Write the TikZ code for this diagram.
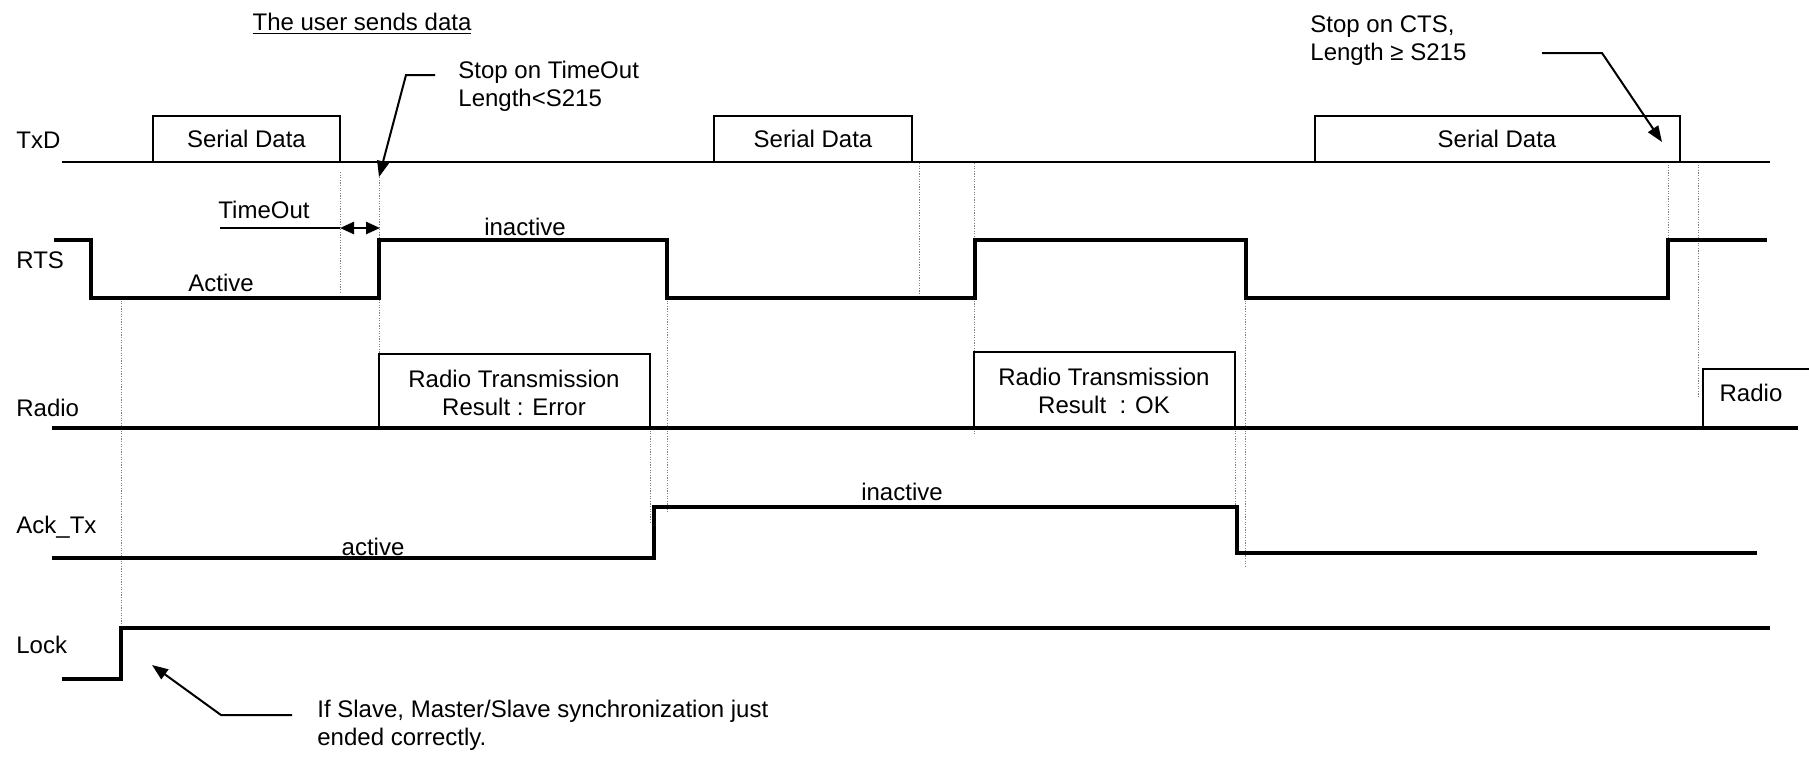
\documentclass[tikz,border=0pt]{standalone}
\usepackage{fontspec}
\setmainfont{Liberation Sans}
\usetikzlibrary{arrows.meta}
\begin{document}
\begin{tikzpicture}[x=0.5pt,y=-0.5pt,
  wave/.style={line width=1.6pt, line join=miter},
  boxline/.style={line width=1.2pt, line join=miter},
  guide/.style={gray, line width=0.5pt, dash pattern=on 0.6pt off 0.7pt},
  lead/.style={line width=1pt, -{Triangle[length=8pt,width=6pt]}},
  txt/.style={font=\fontsize{12}{14}\selectfont, inner sep=0pt},
  sig/.style={txt, anchor=west}]
\useasboundingbox (0,0) rectangle (1809,757);

% signal names
\node[sig] (lTxD) at (16,140) {TxD};
\node[sig] (lRTS) at (16,260) {RTS};
\node[sig] (lRadio) at (16,408) {Radio};
\node[sig] (lAck) at (16,527) {Ack\_Tx};
\node[sig] (lLock) at (16,645) {Lock};

% guide lines (dotted)
\draw[guide] (121,298) -- (121,628);
\draw[guide] (340,172) -- (340,293);
\draw[guide] (379,172) -- (379,354);
\draw[guide] (650,428) -- (650,522);
\draw[guide] (667,298) -- (667,512);
\draw[guide] (919,163) -- (919,298);
\draw[guide] (974,163) -- (974,434);
\draw[guide] (1235,428) -- (1235,553);
\draw[guide] (1245,298) -- (1245,567);
\draw[guide] (1668,162) -- (1668,240);
\draw[guide] (1698,162) -- (1698,397);

% TxD
\draw[boxline] (62,162) -- (1770,162);
\draw[boxline] (153,162) |- (340,116) -- (340,162);
\draw[boxline] (714,162) |- (912,116) -- (912,162);
\draw[boxline] (1315,162) |- (1680,116) -- (1680,162);
\node[txt] (sd1) at (246.5,139) {Serial Data};
\node[txt] (sd2) at (813,139) {Serial Data};
\node[txt] (sd3) at (1497,139) {Serial Data};

% RTS
\draw[wave] (54,240) -- (91,240) -- (91,298) -- (379,298) -- (379,240) -- (667,240)
  -- (667,298) -- (975,298) -- (975,240) -- (1246,240) -- (1246,298) -- (1668,298)
  -- (1668,240) -- (1767,240);
\node[txt] (rtsin1) at (525,227) {inactive};
\node[txt] (rtsact) at (221,283) {Active};

% TimeOut
\node[txt] (tout) at (264,210) {TimeOut};
\coordinate (toA) at (220,228);
\coordinate (toB) at (340,228);
\coordinate (toC) at (380,228);
\draw[line width=1.3pt] (toA) -- (toB);
\draw[line width=1.2pt, {Triangle[length=7pt,width=6pt]}-{Triangle[length=7pt,width=6pt]}] (toB) -- (toC);

% Radio
\draw[wave] (52,428) -- (1798,428);
\draw[boxline] (379,428) |- (650,354) -- (650,428);
\draw[boxline] (974,428) |- (1235,352) -- (1235,428);
\draw[boxline] (1703,428) |- (1815,369);
\node[txt, align=center] (rt1) at (514,393) {Radio Transmission\\Result : Error};
\node[txt, align=center] (rt2) at (1104,391) {Radio Transmission\\Result \ : OK};
\node[txt] (rt3) at (1751,393) {Radio};

% Ack_Tx
\draw[wave] (52,558) -- (654,558) -- (654,507) -- (1237,507) -- (1237,553) -- (1757,553);
\node[txt] (ackact) at (373,547) {active};
\node[txt] (ackin) at (902,492) {inactive};

% Lock
\draw[wave] (62,679) -- (121,679) -- (121,628) -- (1770,628);

% annotations
\node[txt] (title) at (362,24) {\underline{The user sends data}};

\node[txt, align=left, anchor=west] (stopto) at (458,86) {Stop on TimeOut\\Length<S215};
\coordinate (a1s) at (435,75);
\coordinate (a1m) at (406,75);
\coordinate (a1t) at (379,177);
\draw[lead] (a1s) -- (a1m) -- (a1t);

\node[txt, align=left, anchor=west] (stopcts) at (1310,41) {Stop on CTS,\\Length ≥ S215};
\coordinate (a2s) at (1542,53);
\coordinate (a2m) at (1602,53);
\coordinate (a2t) at (1662,142);
\draw[lead] (a2s) -- (a2m) -- (a2t);

\node[txt, align=left, anchor=west] (slave) at (317,725) {If Slave, Master/Slave synchronization just\\ended correctly.};
\coordinate (a3s) at (292,715);
\coordinate (a3m) at (221,715);
\coordinate (a3t) at (152,665);
\draw[lead] (a3s) -- (a3m) -- (a3t);
\end{tikzpicture}
\end{document}
